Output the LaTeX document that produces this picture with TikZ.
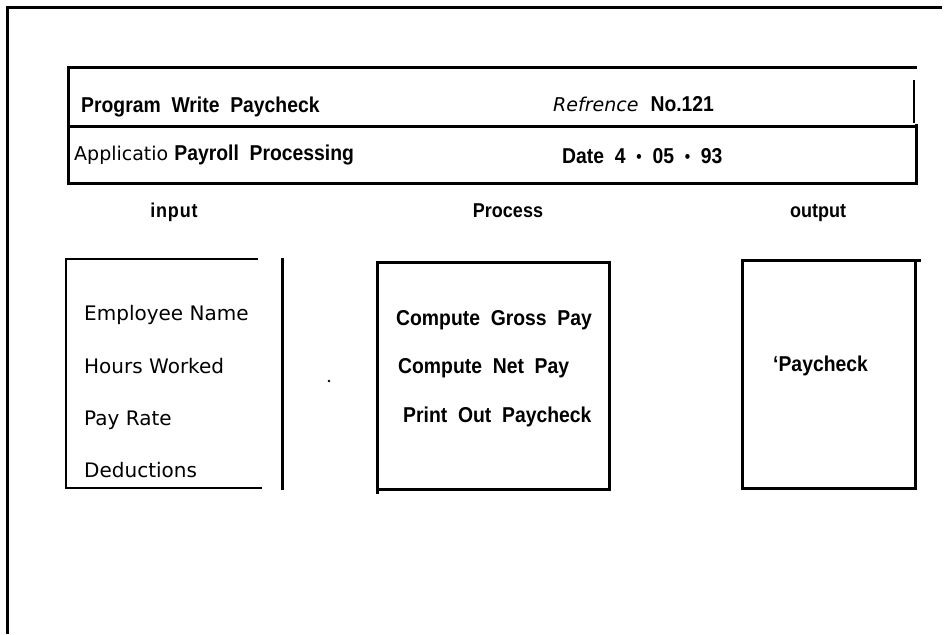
\documentclass[tikz,border=0pt]{standalone}
\usepackage{fontspec}
\setmainfont{Liberation Sans}[FakeStretch=0.9]
\newfontfamily\plainfont{DejaVu Sans}
\newcommand{\boldface}{\upshape\bfseries\fontspec{Liberation Sans}[FakeStretch=0.9]\fontsize{21.5}{24}\selectfont}
\newcommand{\sep}{{\fontsize{17}{18}\selectfont\raisebox{0.5pt}{\textbullet}}}
\begin{document}
\begin{tikzpicture}[x=1pt,y=-1pt,
  heavy/.style={line width=3pt},
  light/.style={line width=1.6pt},
  boldtxt/.style={anchor=west,inner sep=0pt,font=\bfseries\fontsize{21.5}{24}\selectfont},
  headtxt/.style={anchor=base,inner sep=0pt,font=\bfseries\fontsize{20}{24}\selectfont},
  plaintxt/.style={anchor=west,inner sep=0pt,font=\plainfont\fontsize{20}{24}\selectfont}]
\useasboundingbox (0,0) rectangle (944,634);

% outer frame (open at right and bottom)
\draw[heavy] (942,8) -- (7,8) -- (7,634);

% title block
\draw[heavy] (68,67) -- (917,67);
\draw[heavy] (68,66) -- (68,185);
\draw[heavy] (68,126) -- (915,126);
\draw[heavy] (68,183) -- (917,183);
\draw[line width=1.8pt] (914,80) -- (914,123);
\draw[heavy] (916,124) -- (916,185);

\node[boldtxt] (prog) at (81,107) {Program\ \ Write\ \ Paycheck};
\node[anchor=west,inner sep=0pt] (ref) at (553,104)
  {\plainfont\itshape\fontsize{19}{24}\selectfont Refrence\ \ \boldface No.121};
\node[anchor=west,inner sep=0pt] (app) at (74,155)
  {\plainfont\fontsize{19}{24}\selectfont Applicatio \boldface Payroll\ \ Processing};
\node[boldtxt] (date) at (562,156)
  {Date\ \ 4\ \ \sep\ \ 05\ \ \sep\ \ 93};

% column headings
\node[headtxt] (hin) at (174,217) {i\kern0.8pt n\kern0.8pt p\kern0.8pt u\kern0.8pt t};
\node[headtxt] (hproc) at (508,217) {Process};
\node[headtxt] (hout) at (818,217) {output};

% input box
\draw[light] (258,259) -- (66,259) -- (66,488) -- (262,488);
\draw[heavy] (282,258) -- (282,490);
\node[plaintxt] (i1) at (84,315) {Employee Name};
\node[plaintxt] (i2) at (84,366) {Hours Worked};
\node[plaintxt] (i3) at (84,420) {Pay Rate};
\node[plaintxt] (i4) at (84,470) {Deductions};

% process box
\draw[heavy] (377,262) rectangle (609,489);
\draw[heavy] (377,489) -- (377,494);
\node[boldtxt] (p1) at (396,320) {Compute\ \ Gross\ \ Pay};
\node[boldtxt] (p2) at (398,368) {Compute\ \ Net\ \ Pay};
\node[boldtxt] (p3) at (403,417) {Print\ \ Out\ \ Paycheck};

% stray mark
\fill (329,381) circle (1.4pt);

% output box
\draw[heavy] (742,260) rectangle (915,488);
\draw[heavy] (915,260) -- (921,260);
\node[boldtxt] (o1) at (773,366) {‘Paycheck};
\end{tikzpicture}
\end{document}
